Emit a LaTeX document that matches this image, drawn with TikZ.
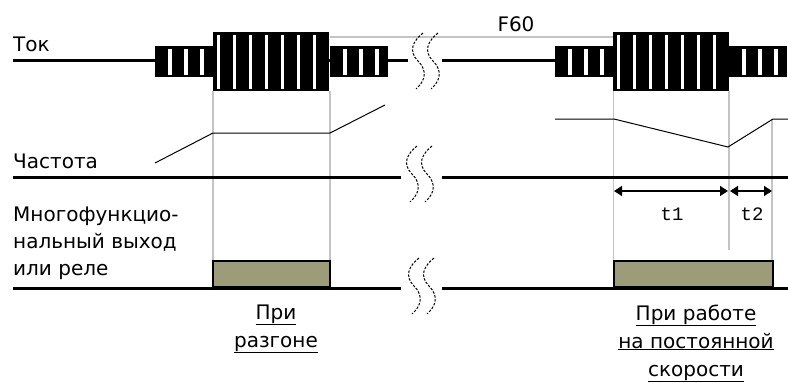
\documentclass[tikz,border=0pt]{standalone}
\usepackage{fontspec}
\setmainfont{DejaVu Sans}
\newfontfamily\monofont{Liberation Mono}
\usetikzlibrary{arrows.meta}
\definecolor{relayfill}{HTML}{9C9C7A}
\definecolor{guide}{HTML}{C4C4C4}
\begin{document}
\begin{tikzpicture}[x=1pt,y=-1pt,
  lbl/.style={font=\fontsize{20}{24}\selectfont, inner sep=0pt, anchor=base west},
  clbl/.style={font=\fontsize{20}{24}\selectfont, inner sep=0pt, anchor=base},
  tlbl/.style={font=\monofont\fontsize{19}{22}\selectfont, inner sep=0pt, anchor=base},
  axisline/.style={line width=3pt},
  guideline/.style={draw=guide, line width=1.2pt},
  freqcurve/.style={line width=1pt},
  brkline/.style={line width=1pt, dash pattern=on 2.5pt off 1.5pt},
  relaybox/.style={fill=relayfill, draw=black, line width=1.3pt},
  dimarrow/.style={line width=1.3pt, {Triangle[length=8pt,width=10pt]}-{Triangle[length=8pt,width=10pt]}},
  bigblk/.pic={
    \fill[black] (0,32) rectangle (116,91);
    \foreach \k in {0,...,6} \fill[white] ({3.5+16*\k},34.5) rectangle ++(3.5,54);
  },
  smallblk/.pic={
    \fill[black] (0,46) rectangle (58,77);
    \foreach \k in {0,1,2} \fill[white] ({13+16*\k},48.5) rectangle ++(3.5,26);
  },
  brkmark/.pic={
    \draw[brkline] (13,0) .. controls (3,8) and (-2,18) .. (8,28) .. controls (18,38) and (15,48) .. (6,56);
    \draw[brkline] (28,0) .. controls (18,8) and (13,18) .. (23,28) .. controls (33,38) and (30,48) .. (21,56);
  }
]
\fill[white] (0,0) rectangle (788,383);
\useasboundingbox (0,0) rectangle (788,383);

% guide lines (grey)
\draw[guideline] (330,37) -- (613,37);
\draw[guideline] (213,91) -- (213,261);
\draw[guideline] (330,91) -- (330,261);
\draw[guideline] (613.5,91) -- (613.5,261);
\draw[guideline] (729,91) -- (729,250);
\draw[guideline] (772,119) -- (772,261);

% current trace
\coordinate (c0) at (13,60.5);
\coordinate (c1) at (408,60.5);
\coordinate (c2) at (442,60.5);
\coordinate (c3) at (556,60.5);
\draw[axisline] (c0) -- (c1);
\draw[axisline] (c2) -- (c3);
\pic at (155,0) {smallblk};
\pic at (213,0) {bigblk};
\pic at (330,0) {smallblk};
\pic at (555,0) {smallblk};
\pic at (613,0) {bigblk};
\pic at (729,0) {smallblk};
\pic at (410,33) {brkmark};

% frequency axis
\coordinate (f0) at (13,177);
\coordinate (f1) at (401,177);
\coordinate (f2) at (442,177);
\coordinate (f3) at (788,177);
\draw[axisline] (f0) -- (f1);
\draw[axisline] (f2) -- (f3);
\pic at (404,146) {brkmark};

% frequency curves
\draw[freqcurve] (155,163) -- (213,133) -- (330,133) -- (385,105);
\draw[freqcurve] (555,119) -- (614,119) -- (728,147) -- (773,119) -- (788,119);

% relay axis
\coordinate (r0) at (13,288);
\coordinate (r1) at (401,288);
\coordinate (r2) at (442,288);
\coordinate (r3) at (788,288);
\draw[axisline] (r0) -- (r1);
\draw[axisline] (r2) -- (r3);
\pic at (406,258) {brkmark};
\draw[relaybox] (213,261) rectangle (330,287);
\draw[relaybox] (614,261) rectangle (773,287);

% time arrows
\coordinate (a0) at (614,191);
\coordinate (a1) at (728,191);
\coordinate (a2) at (730,191);
\coordinate (a3) at (772,191);
\draw[dimarrow] (a0) -- (a1);
\draw[dimarrow] (a2) -- (a3);
\node[tlbl] (t1) at (672,220) {t1};
\node[tlbl] (t2) at (752,220) {t2};

% labels
\node[lbl] (tok) at (13,51) {Ток};
\node[clbl] (f60) at (516,31) {F60};
\node[lbl] (freq) at (13,168) {Частота};
\node[lbl] (mf1) at (13,221) {Многофункцио-};
\node[lbl] (mf2) at (13,248) {нальный выход};
\node[lbl] (mf3) at (13,275) {или реле};

\node[clbl] (acc1) at (276,319) {\underline{При}};
\node[clbl] (acc2) at (276,347) {\underline{разгоне}};
\node[clbl] (cs1) at (696,320) {\underline{При работе}};
\node[clbl] (cs2) at (696,348) {\underline{на постоянной}};
\node[clbl] (cs3) at (696,376) {\underline{скорости}};
\end{tikzpicture}
\end{document}
